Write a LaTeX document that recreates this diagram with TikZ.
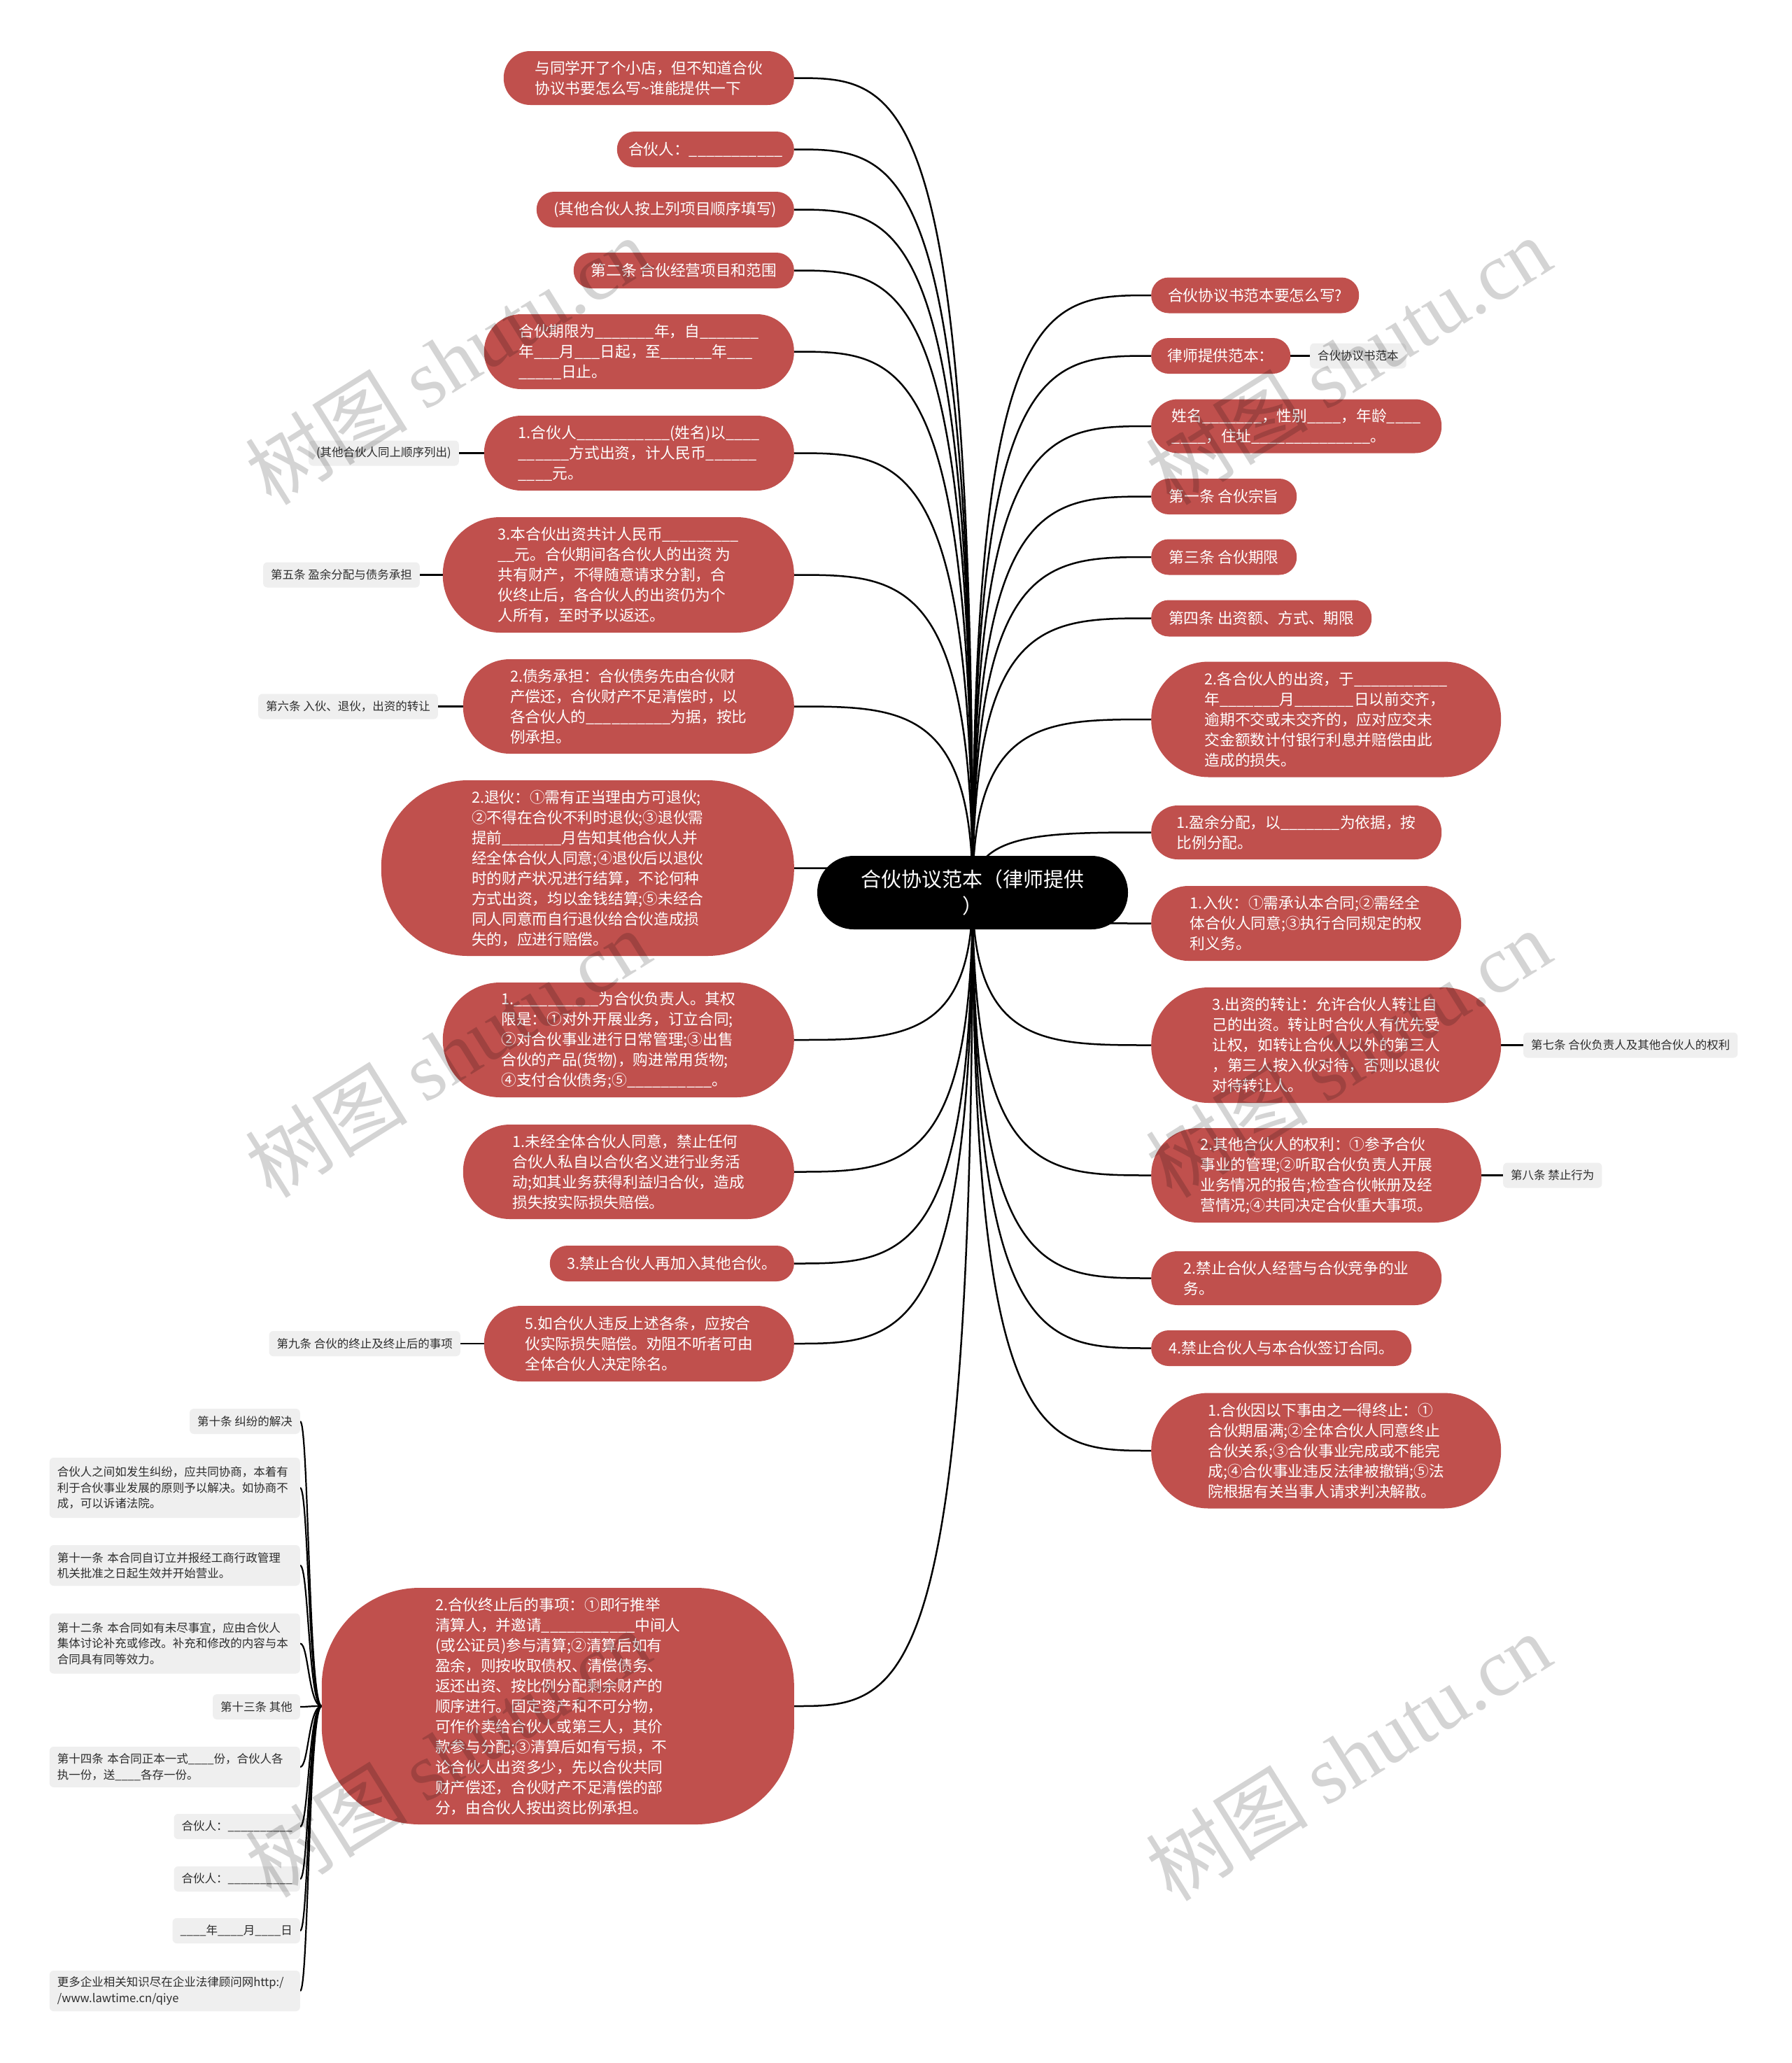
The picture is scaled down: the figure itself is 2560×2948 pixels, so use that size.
\documentclass[tikz,border=0pt]{standalone}
\usepackage{fontspec}
\setmainfont{Noto Sans CJK SC}
\newfontfamily\wmserif{Liberation Serif}
\usetikzlibrary{calc,backgrounds}
\newcommand\usc{\textunderscore}
\ExplSyntaxOn
\NewDocumentCommand\blk{m}{\prg_replicate:nn{#1}{\usc}}
\ExplSyntaxOff
\definecolor{nodered}{RGB}{192,80,77}
\definecolor{labelgray}{RGB}{239,239,239}
\definecolor{labeltext}{RGB}{45,45,45}
\tikzset{
  rnode/.style={fill=nodered, text=white, font=\fontsize{21.7}{29}\selectfont, align=left, inner sep=0pt},
  pill/.style n args={3}{minimum width=#1, minimum height=#2, rounded corners=#3},
  gnode/.style={fill=labelgray, text=labeltext, font=\fontsize{16.5}{22.5}\selectfont, align=left, rounded corners=6pt, inner xsep=11pt, inner ysep=0pt, minimum height=36},
  link/.style={line width=2.5pt, draw=black},
  wm/.style={text=black, opacity=0.17, font=\fontsize{116}{118}\selectfont, rotate=32},
}
\newcommand\linkto[2]{\draw[link] let \p1=(#1), \p2=(#2) in (\p1) .. controls (\x1,\y2) and ({\x1+0.4*(\x2-\x1)},\y2) .. (\p2);}
\newcommand\brkto[1]{\draw[link, line width=2.2pt] let \p1=(L14.west), \p2=(#1) in (\p1) .. controls ({\x2+12pt},\y1) and ({\x2+12pt},\y2) .. (\p2);}
\begin{document}
\begin{tikzpicture}[x=1pt,y=-1pt]
\useasboundingbox (0,0) rectangle (2560,2948);
% centre
\node[fill=black, text=white, rounded corners=52pt, minimum width=444, minimum height=105, inner sep=0pt, align=center, font=\fontsize{29}{38}\selectfont] (c) at (1390,1275.5) {合伙协议范本（律师提供\\）};
\coordinate (o) at (1390,1275.5);
% left branch
\node[rnode,pill={415}{77}{38},anchor=east] (L1) at (1135,111.5) {与同学开了个小店，但不知道合伙\\协议书要怎么写\textasciitilde 谁能提供一下};
\node[rnode,pill={253}{51}{25},anchor=east] (L2) at (1135,213.5) {合伙人：\blk{11}};
\node[rnode,pill={368}{51}{25},anchor=east] (L3) at (1135,299.5) {(其他合伙人按上列项目顺序填写)};
\node[rnode,pill={315}{51}{25},anchor=east] (L4) at (1135,386.5) {第二条 合伙经营项目和范围};
\node[rnode,pill={443}{107}{53},anchor=east] (L5) at (1135,502.5) {合伙期限为\blk{7}年，自\blk{7}\\年\blk{3}月\blk{3}日起，至\blk{6}年\blk{3}\\\blk{5}日止。};
\node[rnode,pill={443}{107}{53},anchor=east] (L6) at (1135,647.5) {1.合伙人\blk{11}(姓名)以\blk{4}\\\blk{6}方式出资，计人民币\blk{6}\\\blk{4}元。};
\node[rnode,pill={502}{165}{82},anchor=east] (L7) at (1135,821.5) {3.本合伙出资共计人民币\blk{9}\\\blk{2}元。合伙期间各合伙人的出资 为\\共有财产，不得随意请求分割，合\\伙终止后，各合伙人的出资仍为个\\人所有，至时予以返还。};
\node[rnode,pill={473}{135}{67},anchor=east] (L8) at (1135,1009.5) {2.债务承担：合伙债务先由合伙财\\产偿还，合伙财产不足清偿时，以\\各合伙人的\blk{10}为据，按比\\例承担。};
\node[rnode,pill={590}{251}{124},anchor=east] (L9) at (1135,1240.5) {2.退伙：①需有正当理由方可退伙;\\②不得在合伙不利时退伙;③退伙需\\提前\blk{7}月告知其他合伙人并\\经全体合伙人同意;④退伙后以退伙\\时的财产状况进行结算，不论何种\\方式出资，均以金钱结算;⑤未经合\\同人同意而自行退伙给合伙造成损\\失的，应进行赔偿。};
\node[rnode,pill={502}{164}{82},anchor=east] (L10) at (1135,1486) {1.\blk{10}为合伙负责人。其权\\限是：①对外开展业务，订立合同;\\②对合伙事业进行日常管理;③出售\\合伙的产品(货物)，购进常用货物;\\④支付合伙债务;⑤\blk{10}。};
\node[rnode,pill={473}{135}{67},anchor=east] (L11) at (1135,1674.5) {1.未经全体合伙人同意，禁止任何\\合伙人私自以合伙名义进行业务活\\动;如其业务获得利益归合伙，造成\\损失按实际损失赔偿。};
\node[rnode,pill={349}{51}{25},anchor=east] (L12) at (1135,1805.5) {3.禁止合伙人再加入其他合伙。};
\node[rnode,pill={443}{108}{53},anchor=east] (L13) at (1135,1920) {5.如合伙人违反上述各条，应按合\\伙实际损失赔偿。劝阻不听者可由\\全体合伙人决定除名。};
\node[rnode,pill={675}{338}{140},anchor=east] (L14) at (1135,2438) {2.合伙终止后的事项：①即行推举\\清算人，并邀请\blk{11}中间人\\(或公证员)参与清算;②清算后如有\\盈余，则按收取债权、清偿债务、\\返还出资、按比例分配剩余财产的\\顺序进行。固定资产和不可分物，\\可作价卖给合伙人或第三人，其价\\款参与分配;③清算后如有亏损，不\\论合伙人出资多少，先以合伙共同\\财产偿还，合伙财产不足清偿的部\\分，由合伙人按出资比例承担。};
% right branch
\node[rnode,pill={297}{51}{25},anchor=west] (R1) at (1645,422) {合伙协议书范本要怎么写?};
\node[rnode,pill={199}{51}{25},anchor=west] (R2) at (1645,508.5) {律师提供范本：};
\node[rnode,pill={415}{77}{38},anchor=west] (R3) at (1645,609) {姓名\blk{7}，性别\blk{4}，年龄\blk{4}\\\blk{4}，住址\blk{14}。};
\node[rnode,pill={208}{51}{25},anchor=west] (R4) at (1645,709.5) {第一条 合伙宗旨};
\node[rnode,pill={208}{51}{25},anchor=west] (R5) at (1645,796) {第三条 合伙期限};
\node[rnode,pill={315}{52}{25},anchor=west] (R6) at (1645,883.5) {第四条 出资额、方式、期限};
\node[rnode,pill={500}{165}{82},anchor=west] (R7) at (1645,1028) {2.各合伙人的出资，于\blk{11}\\年\blk{7}月\blk{7}日以前交齐，\\逾期不交或未交齐的，应对应交未\\交金额数计付银行利息并赔偿由此\\造成的损失。};
\node[rnode,pill={415}{77}{38},anchor=west] (R8) at (1645,1189.5) {1.盈余分配，以\blk{7}为依据，按\\比例分配。};
\node[rnode,pill={443}{107}{53},anchor=west] (R9) at (1645,1319.5) {1.入伙：①需承认本合同;②需经全\\体合伙人同意;③执行合同规定的权\\利义务。};
\node[rnode,pill={500}{165}{82},anchor=west] (R10) at (1645,1493.5) {3.出资的转让：允许合伙人转让自\\己的出资。转让时合伙人有优先受\\让权，如转让合伙人以外的第三人\\，第三人按入伙对待，否则以退伙\\对待转让人。};
\node[rnode,pill={472}{135}{67},anchor=west] (R11) at (1645,1679.5) {2.其他合伙人的权利：①参予合伙\\事业的管理;②听取合伙负责人开展\\业务情况的报告;检查合伙帐册及经\\营情况;④共同决定合伙重大事项。};
\node[rnode,pill={415}{77}{38},anchor=west] (R12) at (1645,1826.5) {2.禁止合伙人经营与合伙竞争的业\\务。};
\node[rnode,pill={372}{51}{25},anchor=west] (R13) at (1645,1926.5) {4.禁止合伙人与本合伙签订合同。};
\node[rnode,pill={500}{165}{82},anchor=west] (R14) at (1645,2073) {1.合伙因以下事由之一得终止：①\\合伙期届满;②全体合伙人同意终止\\合伙关系;③合伙事业完成或不能完\\成;④合伙事业违反法律被撤销;⑤法\\院根据有关当事人请求判决解散。};
% grey labels beside branches
\node[gnode,anchor=east] (GL6) at (656,647.5) {(其他合伙人同上顺序列出)};
\node[gnode,anchor=east] (GL7) at (600,821.5) {第五条 盈余分配与债务承担};
\node[gnode,anchor=east] (GL8) at (626,1009.5) {第六条 入伙、退伙，出资的转让};
\node[gnode,anchor=east] (GL13) at (658,1920) {第九条 合伙的终止及终止后的事项};
\node[gnode,anchor=west] (GR2) at (1872,508.5) {合伙协议书范本};
\node[gnode,anchor=west] (GR10) at (2177,1493.5) {第七条 合伙负责人及其他合伙人的权利};
\node[gnode,anchor=west] (GR11) at (2148,1679.5) {第八条 禁止行为};
% bottom-left labels
\node[gnode,anchor=east] (G1) at (429,2031) {第十条 纠纷的解决};
\node[gnode,anchor=east,text width=336,minimum height=86] (G2) at (429,2126) {合伙人之间如发生纠纷，应共同协商，本着有\\利于合伙事业发展的原则予以解决。如协商不\\成，可以诉诸法院。};
\node[gnode,anchor=east,text width=336,minimum height=58] (G3) at (429,2237) {第十一条 本合同自订立并报经工商行政管理\\机关批准之日起生效并开始营业。};
\node[gnode,anchor=east,text width=336,minimum height=86] (G4) at (429,2348.5) {第十二条 本合同如有未尽事宜，应由合伙人\\集体讨论补充或修改。补充和修改的内容与本\\合同具有同等效力。};
\node[gnode,anchor=east] (G5) at (429,2439) {第十三条 其他};
\node[gnode,anchor=east,text width=336,minimum height=58] (G6) at (429,2525) {第十四条 本合同正本一式\blk{4}份，合伙人各\\执一份，送\blk{4}各存一份。};
\node[gnode,anchor=east] (G7) at (429,2610) {合伙人：\blk{10}};
\node[gnode,anchor=east] (G8) at (429,2685) {合伙人：\blk{10}};
\node[gnode,anchor=east] (G9) at (429,2759) {\blk{4}年\blk{4}月\blk{4}日};
\node[gnode,anchor=east,text width=336,minimum height=58] (G10) at (429,2845) {更多企业相关知识尽在企业法律顾问网http:/\\/www.lawtime.cn/qiye};
% connectors
\begin{pgfonlayer}{background}
\fill[white] (0,0) rectangle (2560,2948);
\linkto{o}{L1.east}
\linkto{o}{L2.east}
\linkto{o}{L3.east}
\linkto{o}{L4.east}
\linkto{o}{L5.east}
\linkto{o}{L6.east}
\linkto{o}{L7.east}
\linkto{o}{L8.east}
\linkto{o}{L9.east}
\linkto{o}{L10.east}
\linkto{o}{L11.east}
\linkto{o}{L12.east}
\linkto{o}{L13.east}
\linkto{o}{L14.east}
\linkto{o}{R1.west}
\linkto{o}{R2.west}
\linkto{o}{R3.west}
\linkto{o}{R4.west}
\linkto{o}{R5.west}
\linkto{o}{R6.west}
\linkto{o}{R7.west}
\linkto{o}{R8.west}
\linkto{o}{R9.west}
\linkto{o}{R10.west}
\linkto{o}{R11.west}
\linkto{o}{R12.west}
\linkto{o}{R13.west}
\linkto{o}{R14.west}
\draw[link] (GL6.east) -- (L6.west);
\draw[link] (GL7.east) -- (L7.west);
\draw[link] (GL8.east) -- (L8.west);
\draw[link] (GL13.east) -- (L13.west);
\draw[link] (R2.east) -- (GR2.west);
\draw[link] (R10.east) -- (GR10.west);
\draw[link] (R11.east) -- (GR11.west);
\brkto{G1.east}
\brkto{G2.east}
\brkto{G3.east}
\brkto{G4.east}
\brkto{G5.east}
\brkto{G6.east}
\brkto{G7.east}
\brkto{G8.east}
\brkto{G9.east}
\brkto{G10.east}
\end{pgfonlayer}
% watermarks
\node[wm] (w1) at (640,515) {树图 {\wmserif shutu.cn}};
\node[wm] (w2) at (1927,515) {树图 {\wmserif shutu.cn}};
\node[wm] (w3) at (640,1505) {树图 {\wmserif shutu.cn}};
\node[wm] (w4) at (1927,1505) {树图 {\wmserif shutu.cn}};
\node[wm] (w5) at (640,2505) {树图 {\wmserif shutu.cn}};
\node[wm] (w6) at (1927,2510) {树图 {\wmserif shutu.cn}};
\end{tikzpicture}
\end{document}
